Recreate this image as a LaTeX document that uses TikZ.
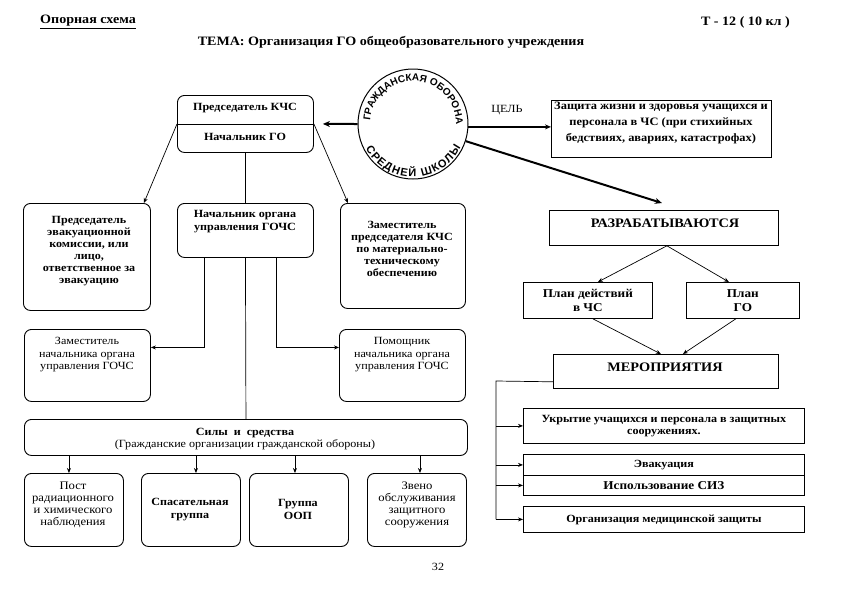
\documentclass[tikz,border=0pt]{standalone}
\usepackage{fontspec}
\setmainfont{Liberation Serif}[FakeStretch=1.1]
\setsansfont{Liberation Sans}
\usetikzlibrary{arrows.meta,decorations.text,calc}
\begin{document}
\begin{tikzpicture}[x=1pt,y=-1pt,
  rbox/.style={draw, line width=0.9pt, rounded corners=7pt, anchor=north west, inner sep=0pt},
  sbox/.style={draw, line width=0.8pt, anchor=north west, inner sep=0pt, font=\fontsize{11}{12.5}\selectfont\bfseries, align=center},
  bt/.style={font=\fontsize{11}{12}\selectfont\bfseries, align=center, inner sep=0pt},
  nt/.style={font=\fontsize{11}{12.5}\selectfont, align=center, inner sep=0pt},
  conn/.style={line width=0.7pt},
  arr/.style={conn, -{Stealth[length=5pt,width=4pt]}},
  thickarr/.style={line width=2pt, -{Stealth[length=7pt,width=6pt]}},
  hdr/.style={font=\fontsize{12.8}{14}\selectfont\bfseries, inner sep=0pt}
]
\useasboundingbox (0,0) rectangle (841,595);

% header
\node[hdr, anchor=west] (h1) at (40,22) {\underline{Опорная схема}};
\node[hdr, anchor=east] (h2) at (790,22) {Т - 12 ( 10 кл )};
\node[hdr] (h3) at (391,42) {ТЕМА: Организация ГО общеобразовательного учреждения};

% top box
\node[rbox, minimum width=136pt, minimum height=57pt] (top) at (177,95) {};
\draw[line width=0.8pt] (top.west) -- (top.east);
\node[bt] (topA) at (245,108) {Председатель КЧС};
\node[bt] (topB) at (245,137) {Начальник ГО};

% circle
\node[draw, circle, line width=1pt, minimum size=110pt, inner sep=0pt] (circ) at (413,124) {};
\begin{scope}[shift={(413,124)}, x=1pt, y=1pt]
  \path[decorate, decoration={text along path, text align={fit to path},
     text={|\sffamily\bfseries\fontsize{10}{10}\selectfont|ГРАЖДАНСКАЯ ОБОРОНА}}] (176:43) arc (176:4:43);
  \path[decorate, decoration={text along path, text align={fit to path},
     text={|\sffamily\bfseries\fontsize{11}{11}\selectfont|СРЕДНЕЙ ШКОЛЫ}}] (207:53) arc (207:334:53);
\end{scope}

% goal
\node[sbox, minimum width=220pt, minimum height=57pt] (goal) at (551,100) {};
\node[bt, font=\fontsize{11.3}{16}\selectfont\bfseries] (goalT) at (661,123) {Защита жизни и здоровья учащихся и\\персонала в ЧС (при стихийных\\бедствиях, авариях, катастрофах)};
\node[font=\fontsize{11}{12}\selectfont, inner sep=0pt] (goalL) at (507,110) {ЦЕЛЬ};

% right column
\node[sbox, minimum width=229pt, minimum height=35pt] (razr) at (549,210) {};
\node[bt, font=\fontsize{13}{14}\selectfont\bfseries] (razrT) at (665,223) {РАЗРАБАТЫВАЮТСЯ};
\node[sbox, font=\fontsize{12}{13.5}\selectfont\bfseries, minimum width=129pt, minimum height=36pt] (plan1) at (523,282) {План действий\\в ЧС};
\node[sbox, font=\fontsize{12}{13.5}\selectfont\bfseries, minimum width=113pt, minimum height=36pt] (plan2) at (686,282) {План\\ГО};
\node[sbox, minimum width=225pt, minimum height=34pt] (mer) at (553,354) {};
\node[bt, font=\fontsize{13}{14}\selectfont\bfseries] (merT) at (665,367) {МЕРОПРИЯТИЯ};
\node[sbox, minimum width=281pt, minimum height=35pt] (ukr) at (523,408) {Укрытие учащихся и персонала в защитных\\сооружениях.};
\node[sbox, minimum width=281pt, minimum height=21pt] (evk) at (523,454) {Эвакуация};
\node[sbox, font=\fontsize{12}{13}\selectfont\bfseries, minimum width=281pt, minimum height=20pt] (siz) at (523,475) {Использование СИЗ};
\node[sbox, minimum width=281pt, minimum height=26pt] (med) at (523,506) {Организация медицинской защиты};

% left part
\node[rbox, minimum width=127pt, minimum height=107pt] (evak) at (23,203) {};
\node[bt] (evakT) at (89,251) {Председатель\\эвакуационной\\комиссии, или\\лицо,\\ответственное за\\эвакуацию};
\node[rbox, minimum width=136pt, minimum height=54pt] (gochs) at (177,203) {};
\node[bt, font=\fontsize{11}{13}\selectfont\bfseries] (gochsT) at (245,222) {Начальник органа\\управления ГОЧС};
\node[rbox, minimum width=125pt, minimum height=105pt] (zkchs) at (340,203) {};
\node[bt] (zkchsT) at (402,249) {Заместитель\\председателя КЧС\\по материально-\\техническому\\обеспечению};
\node[rbox, minimum width=126pt, minimum height=72pt] (zamnach) at (24,329) {};
\node[nt] (zamnachT) at (87,355) {Заместитель\\начальника органа\\управления ГОЧС};
\node[rbox, minimum width=126pt, minimum height=72pt] (pom) at (339,329) {};
\node[nt] (pomT) at (402,355) {Помощник\\начальника органа\\управления ГОЧС};
\node[rbox, minimum width=443pt, minimum height=36pt] (sily) at (24,419) {};
\node[nt] (silyT) at (245,439) {\textbf{Силы\ \ и\ \ средства}\\(Гражданские организации гражданской обороны)};
\node[rbox, minimum width=99pt, minimum height=73pt] (post) at (24,473) {};
\node[nt, font=\fontsize{11.5}{12}\selectfont] (postT) at (73,505) {Пост\\радиационного\\и химического\\наблюдения};
\node[rbox, minimum width=99pt, minimum height=73pt] (spas) at (141,473) {};
\node[bt, font=\fontsize{11}{13}\selectfont\bfseries] (spasT) at (190,509.5) {Спасательная\\группа};
\node[rbox, minimum width=99pt, minimum height=73pt] (oop) at (249,473) {};
\node[bt, font=\fontsize{11}{13}\selectfont\bfseries] (oopT) at (298,509.5) {Группа\\ООП};
\node[rbox, minimum width=99pt, minimum height=73pt] (zveno) at (367,473) {};
\node[nt, font=\fontsize{11.5}{12}\selectfont] (zvenoT) at (417,505) {Звено\\обслуживания\\защитного\\сооружения};

\node[nt] (page) at (438,567) {32};

% connectors
\draw[thickarr, shorten >=9pt] (circ.west) -- (top.east);
\draw[line width=1.2pt, -{Stealth[length=6pt,width=5pt]}] (circ.-3) -- (circ.-3 -| goal.west);
\draw[thickarr] (circ.-18) -- ($(razr.north)+(-2,-7)$);
\draw[arr] ($(razr.south)+(3,0)$) -- ($(plan1.north)+(10,0)$);
\draw[arr] ($(razr.south)+(3,0)$) -- ($(plan2.north)+(-14,0)$);
\draw[arr] ($(plan1.south)+(5,0)$) -- ($(mer.north)+(-5,0)$);
\draw[arr] ($(plan2.south)+(-7,0)$) -- ($(mer.north)+(17,0)$);
\coordinate (brT) at (496,381);
\draw[conn] ($(mer.south west)+(0,-7)$) -- (brT) -- (brT |- med.west);
\draw[arr] (brT |- ukr.west) -- (ukr.west);
\draw[arr] (brT |- evk.west) -- (evk.west);
\draw[arr] (brT |- siz.west) -- (siz.west);
\draw[arr] (brT |- med.west) -- (med.west);

\draw[arr] (top.west) -- ($(evak.north east)+(-7,0)$);
\draw[arr] (top.east) -- ($(zkchs.north west)+(8,0)$);
\draw[conn] (top.south) -- (gochs.north);
\draw[conn] (gochs.south) -- (sily.north);
\draw[arr] ($(gochs.south)+(-41,0)$) |- ($(zamnach.east)+(0,-18)$);
\draw[arr] ($(gochs.south)+(31,0)$) |- ($(pom.west)+(0,-18)$);
\draw[arr] ($(sily.south -| post.north)+(-5,0)$) -- ($(post.north)+(-5,0)$);
\draw[arr] ($(sily.south -| spas.north)+(5,0)$) -- ($(spas.north)+(5,0)$);
\draw[arr] ($(sily.south -| oop.north)+(-4,0)$) -- ($(oop.north)+(-4,0)$);
\draw[arr] ($(sily.south -| zveno.north)+(3,0)$) -- ($(zveno.north)+(3,0)$);
\end{tikzpicture}
\end{document}
